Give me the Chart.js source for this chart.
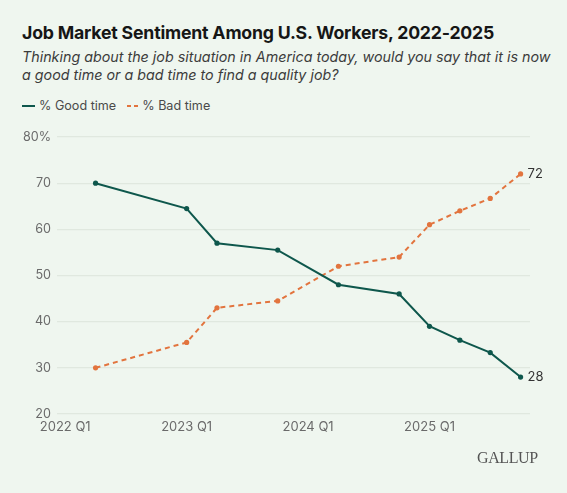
<!DOCTYPE html>
<html>
<head>
<meta charset="utf-8">
<script src="https://cdn.jsdelivr.net/npm/chart.js@4.4.1/dist/chart.umd.min.js"></script>
<style>
  html, body { margin: 0; padding: 0; }
  body {
    width: 567px; height: 493px; position: relative; overflow: hidden;
    background: #eff6ef; font-family: Inter, "Noto Sans", sans-serif;
  }
  #title {
    position: absolute; left: 22px; top: 22px; margin: 0;
    font-size: 17.7px; font-weight: 700; color: #161616; letter-spacing: -0.2px;
    white-space: nowrap;
  }
  #subtitle {
    position: absolute; left: 22px; top: 48px; margin: 0; white-space: nowrap;
    font-size: 14.3px; font-style: italic; color: #3c3c3c; line-height: 18px;
  }
  #legend {
    position: absolute; left: 22px; top: 98px; font-size: 12.6px; color: #4a4a4a;
    display: flex; align-items: center; white-space: nowrap;
  }
  .sw { display: inline-block; height: 2px; margin-right: 4px; vertical-align: middle; }
  .good { width: 13px; background: #0e574c; }
  .dash { width: 4px; background: #e2743e; margin-right: 3px; }
  #gallup {
    position: absolute; left: 477px; top: 449px;
    font-family: "Liberation Serif", "DejaVu Serif", serif; font-size: 16px;
    color: #555; letter-spacing: -0.4px;
  }
  #chartBox { position: absolute; left: 0; top: 120px; width: 567px; height: 330px; }
</style>
</head>
<body>
<h1 id="title">Job Market Sentiment Among U.S. Workers, 2022-2025</h1>
<p id="subtitle">Thinking about the job situation in America today, would you say that it is now<br>a good time or a bad time to find a quality job?</p>
<div id="legend">
  <span class="sw good"></span><span>% Good time</span>
  <span style="display:inline-block;width:11px"></span>
  <span class="sw dash"></span><span class="sw dash" style="margin-right:4px"></span><span>% Bad time</span>
</div>
<div id="chartBox"><canvas id="chart" width="567" height="330"></canvas></div>
<div id="gallup">GALLUP</div>

<script>
// survey waves (quarter of fieldwork)
var quarters = ['2022 Q2', '2023 Q1', '2023 Q2', '2023 Q4', '2024 Q2',
                '2024 Q4', '2025 Q1', '2025 Q2', '2025 Q3', '2025 Q4'];
var goodTime = [70, 64.5, 57, 55.5, 48, 46, 39, 36, 33.3, 28];
var badTime  = [30, 35.5, 43, 44.5, 52, 54, 61, 64, 66.7, 72];
var xTickLabels = ['2022 Q1', '2023 Q1', '2024 Q1', '2025 Q1'];
var yTicks = [20, 30, 40, 50, 60, 70, 80];

var GREEN = '#0e574c';
var ORANGE = '#e2743e';

// quarter label -> number of quarters since 2022 Q1
function qIndex (label) {
    var parts = label.split(' Q');
    return (parseInt(parts[0], 10) - 2022) * 4 + parseInt(parts[1], 10) - 1;
}

function points (values) {
    return values.map(function (v, i) {
        return { x: qIndex(quarters[i]), y: v };
    });
}

//Writes the last value to the right of each line
var endLabels = {
    id: 'endLabels',
    afterDatasetsDraw: function (chart) {
        var ctx = chart.ctx;
        ctx.save();
        ctx.font = '13px Inter, "Noto Sans", sans-serif';
        ctx.fillStyle = '#333';
        ctx.textBaseline = 'middle';
        chart.data.datasets.forEach(function (ds, i) {
            var meta = chart.getDatasetMeta(i);
            var last = meta.data[meta.data.length - 1];
            var val = ds.data[ds.data.length - 1].y;
            ctx.fillText(Math.round(val), last.x + 7, last.y);
        });
        ctx.restore();
    }
};

var ctx = document.getElementById('chart').getContext('2d');
var chart = new Chart(ctx, {
    type: 'line',
    data: {
        datasets: [{
            label: '% Good time',
            data: points(goodTime),
            borderColor: GREEN,
            backgroundColor: GREEN,
            borderWidth: 2,
            pointRadius: 2.6,
            pointBorderWidth: 0,
            tension: 0
        }, {
            label: '% Bad time',
            data: points(badTime),
            borderColor: ORANGE,
            backgroundColor: ORANGE,
            borderWidth: 2,
            borderDash: [5, 4],
            pointRadius: 2.6,
            pointBorderWidth: 0,
            tension: 0
        }]
    },
    options: {
        responsive: false,
        animation: false,
        layout: { padding: { top: 17, right: 37, bottom: 10, left: 0 } },
        plugins: { legend: { display: false }, tooltip: { enabled: false } },
        scales: {
            x: {
                type: 'linear',
                min: -0.27,
                max: 15.31,
                grid: { display: false, drawTicks: false },
                border: { display: false },
                afterBuildTicks: function (scale) {
                    scale.ticks = xTickLabels.map(function (l) { return { value: qIndex(l) }; });
                },
                afterFit: function (scale) { scale.height = 26; },
                ticks: {
                    autoSkip: false,
                    maxRotation: 0,
                    padding: 5,
                    color: '#6a6a6a',
                    font: { family: 'Inter', size: 13 },
                    callback: function (v) {
                        var i = xTickLabels.map(qIndex).indexOf(v);
                        return i >= 0 ? xTickLabels[i] : '';
                    }
                }
            },
            y: {
                min: 20,
                max: 80,
                afterBuildTicks: function (scale) {
                    scale.ticks = yTicks.map(function (v) { return { value: v }; });
                },
                afterFit: function (scale) { scale.width = 57; },
                grid: { color: '#e0e8df', lineWidth: 1.3, drawTicks: false },
                border: { display: false },
                ticks: {
                    padding: 6,
                    color: '#6a6a6a',
                    font: { family: 'Inter', size: 12.6 },
                    callback: function (v) { return v === 80 ? v + '%' : v; }
                }
            }
        }
    },
    plugins: [endLabels]
});
</script>
</body>
</html>
